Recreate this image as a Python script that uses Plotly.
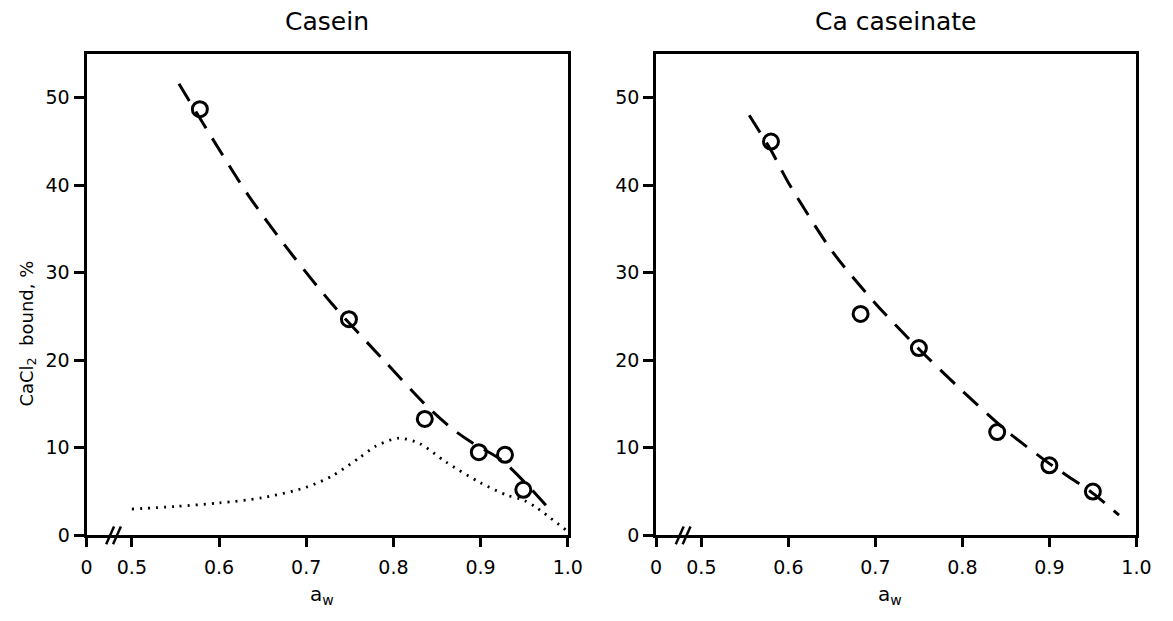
import plotly.graph_objects as go

W, H = 1173, 621

# axis ticks
x_ticks = [0.448, 0.5, 0.6, 0.7, 0.8, 0.9, 1.0]
x_ticktext = ["0", "0.5", "0.6", "0.7", "0.8", "0.9", "1.0"]
y_ticks = [0, 10, 20, 30, 40, 50]

# Casein panel
casein_aw = [0.578, 0.749, 0.836, 0.898, 0.928, 0.949]
casein_bound = [48.7, 24.7, 13.3, 9.5, 9.2, 5.2]
casein_fit_aw = [0.554, 0.592, 0.634, 0.682, 0.730, 0.790, 0.836, 0.866, 0.890, 0.924, 0.955, 0.977]
casein_fit = [51.6, 45.4, 38.8, 32.3, 26.4, 19.9, 15.0, 12.3, 10.6, 8.6, 5.6, 3.2]
casein_dot_aw = [0.50, 0.55, 0.60, 0.65, 0.70, 0.73, 0.76, 0.78, 0.806, 0.83, 0.86, 0.90, 0.93, 0.95, 0.965, 0.998]
casein_dot = [3.0, 3.3, 3.7, 4.3, 5.5, 6.8, 8.8, 10.2, 11.1, 10.5, 8.4, 6.0, 4.6, 4.0, 3.1, 0.6]

# Ca caseinate panel
cas_aw = [0.58, 0.683, 0.75, 0.84, 0.90, 0.95]
cas_bound = [45.0, 25.3, 21.4, 11.8, 8.0, 5.0]
cas_fit_aw = [0.555, 0.58, 0.60, 0.65, 0.70, 0.75, 0.80, 0.85, 0.90, 0.95, 0.98]
cas_fit = [48.0, 44.0, 40.3, 32.5, 26.5, 21.3, 16.5, 12.0, 8.2, 4.8, 2.3]

FONT = "DejaVu Sans"
dx1 = [82 / W, 572 / W]
dx2 = [662 / W, 1151 / W]
dy = [1 - 545 / H, 1 - 55 / H]

fig = go.Figure()

def add_panel(xa, ya, fit_x, fit_y, px, py, dot_x=None, dot_y=None):
    fig.add_trace(go.Scatter(x=fit_x, y=fit_y, mode="lines", xaxis=xa, yaxis=ya,
                             line=dict(color="black", width=3, dash="20px,12px",
                                       shape="spline", smoothing=0.8),
                             showlegend=False, hoverinfo="skip"))
    if dot_x is not None:
        fig.add_trace(go.Scatter(x=dot_x, y=dot_y, mode="lines", xaxis=xa, yaxis=ya,
                                 line=dict(color="black", width=2.8, dash="2px,6px",
                                           shape="spline", smoothing=0.8),
                                 showlegend=False, hoverinfo="skip"))
    fig.add_trace(go.Scatter(x=px, y=py, mode="markers", xaxis=xa, yaxis=ya,
                             marker=dict(symbol="circle-open", size=15, color="black",
                                         line=dict(width=3, color="black")),
                             showlegend=False))

add_panel("x", "y", casein_fit_aw, casein_fit, casein_aw, casein_bound, casein_dot_aw, casein_dot)
add_panel("x2", "y2", cas_fit_aw, cas_fit, cas_aw, cas_bound)

xcommon = dict(range=[0.448, 1.0], tickvals=x_ticks, ticktext=x_ticktext,
               showline=True, linecolor="black", linewidth=3, mirror=True,
               ticks="outside", ticklen=9, tickwidth=2.5, tickcolor="black",
               ticklabelstandoff=4,
               showgrid=False, zeroline=False,
               tickfont=dict(family=FONT, size=19, color="black"))
ycommon = dict(range=[0, 55], tickvals=y_ticks,
               showline=True, linecolor="black", linewidth=3, mirror=True,
               ticks="outside", ticklen=10, tickwidth=2.5, tickcolor="black",
               showgrid=False, zeroline=False,
               tickfont=dict(family=FONT, size=19, color="black"))

fig.update_layout(
    width=W, height=H,
    margin=dict(l=0, r=0, t=0, b=0),
    paper_bgcolor="white", plot_bgcolor="white",
    xaxis=dict(domain=dx1, anchor="y", **xcommon),
    yaxis=dict(domain=dy, anchor="x", **ycommon),
    xaxis2=dict(domain=dx2, anchor="y2", **xcommon),
    yaxis2=dict(domain=dy, anchor="x2", **ycommon),
)

def px2paper_x(p):
    return p / W

def px2paper_y(p):
    return 1 - p / H

# axis break marks "//"
shapes = []
for x0 in (82, 662):
    for off in (20, 27):
        shapes.append(dict(type="line", xref="paper", yref="paper",
                           x0=px2paper_x(x0 + off), y0=px2paper_y(554),
                           x1=px2paper_x(x0 + off + 8), y1=px2paper_y(536),
                           line=dict(color="black", width=2.5)))
fig.update_layout(shapes=shapes)

def label(text, x, y, size, angle=0):
    return dict(text=text, x=px2paper_x(x), y=px2paper_y(y), xref="paper", yref="paper",
                xanchor="center", yanchor="middle", showarrow=False, textangle=angle,
                font=dict(family=FONT, size=size, color="black"))

ann = [
    label("Casein", 327, 22, 25),
    label("Ca caseinate", 906, 22, 25),
    label("a<sub>w</sub>", 322, 606, 20),
    label("a<sub>w</sub>", 900, 606, 20),
    label("CaCl<sub>2</sub>  bound, %", 22, 340, 18, angle=-90),
]
fig.update_layout(annotations=ann)

fig.write_html("out.html")
